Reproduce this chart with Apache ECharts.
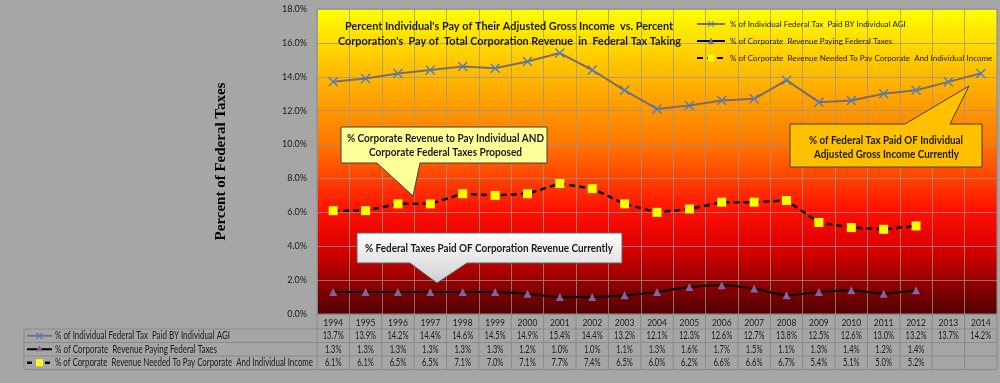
<!DOCTYPE html>
<html><head><meta charset="utf-8">
<script src="https://cdn.jsdelivr.net/npm/echarts@6/dist/echarts.min.js"></script>
<style>html,body{margin:0;padding:0;background:#a6a6a6}#c{width:1000px;height:383px}</style>
</head><body><div id="c"></div>
<script>
var years = ['1994','1995','1996','1997','1998','1999','2000','2001','2002','2003','2004','2005','2006','2007','2008','2009','2010','2011','2012','2013','2014'];
var individualAGI = [13.7,13.9,14.2,14.4,14.6,14.5,14.9,15.4,14.4,13.2,12.1,12.3,12.6,12.7,13.8,12.5,12.6,13.0,13.2,13.7,14.2];
var corpPaying = [1.3,1.3,1.3,1.3,1.3,1.3,1.2,1.0,1.0,1.1,1.3,1.6,1.7,1.5,1.1,1.3,1.4,1.2,1.4,null,null];
var corpNeeded = [6.1,6.1,6.5,6.5,7.1,7.0,7.1,7.7,7.4,6.5,6.0,6.2,6.6,6.6,6.7,5.4,5.1,5.0,5.2,null,null];
var seriesNames = ['% of Individual Federal Tax  Paid BY Individual AGI','% of Corporate  Revenue Paying Federal Taxes','% of Corporate  Revenue Needed To Pay Corporate  And Individual Income'];
var titleLines = ["Percent Individual's Pay of Their Adjusted Gross Income  vs. Percent", "Corporation's  Pay of  Total Corporation Revenue  in  Federal Tax Taking"];
var yTicks = {min:0, max:18, interval:2};
var callout1 = ['% Corporate Revenue to Pay Individual AND','Corporate Federal Taxes Proposed'];
var callout2 = ['% Federal Taxes Paid OF Corporation Revenue Currently'];
var callout3 = ['% of Federal Tax Paid OF Individual','Adjusted Gross Income Currently'];

var FONT = 'Lato, "Liberation Sans", Arial, sans-serif';
var XMARK = 'path://M1,0 L5,4 L9,0 L10,1 L6,5 L10,9 L9,10 L5,6 L1,10 L0,9 L4,5 L0,1 Z';
var mctx = document.createElement('canvas').getContext('2d');
function fit(text, font, w){ mctx.font = font; return w / mctx.measureText(text).width; }

var chart = echarts.init(document.getElementById('c'), null, {renderer:'canvas'});
var G = {left:317, right:3, top:9, bottom:69};
var option = {
  backgroundColor:'#a6a6a6',
  animation:false,
  grid:{left:G.left, right:G.right, top:G.top, bottom:G.bottom, show:true, borderColor:'#8c8c8c', borderWidth:1,
    backgroundColor:{type:'linear',x:0,y:0,x2:0,y2:1,colorStops:[
      {offset:0,color:'#ffff00'},{offset:0.2,color:'#ffbf00'},{offset:0.44,color:'#ff7800'},
      {offset:0.66,color:'#ff1000'},{offset:0.78,color:'#dd0000'},{offset:1,color:'#500000'}]}},
  legend:{orient:'vertical', left:696, top:20, padding:0, itemWidth:28, itemHeight:8, itemGap:9,
    textStyle:{fontFamily:FONT, fontSize:8, color:'#1a1a1a'}, data:seriesNames},
  xAxis:{type:'category', data:years, boundaryGap:true,
    axisLine:{lineStyle:{color:'#8c8c8c'}}, axisTick:{show:false},
    axisLabel:{fontFamily:FONT, fontSize:8.5, color:'#1a1a1a', margin:5},
    splitLine:{show:true, interval:0, lineStyle:{color:'rgba(150,150,150,0.75)', width:1}}},
  yAxis:{type:'value', min:yTicks.min, max:yTicks.max, interval:yTicks.interval,
    name:'Percent of Federal Taxes', nameLocation:'middle', nameGap:88, nameRotate:90,
    nameTextStyle:{fontFamily:'"Liberation Serif", "Times New Roman", serif', fontWeight:'bold', fontSize:15, color:'#000'},
    axisLine:{show:false}, axisTick:{show:false},
    axisLabel:{fontFamily:FONT, fontSize:9, color:'#1a1a1a', margin:10, formatter:function(v){return v.toFixed(1)+'%';}},
    splitLine:{lineStyle:{color:'rgba(150,150,150,0.75)', width:1}}},
  series:[
    {name:seriesNames[0], type:'line', data:individualAGI, symbol:XMARK, symbolSize:10,
      lineStyle:{color:'#7d6b68', width:2}, itemStyle:{color:'#4a7fc8'}},
    {name:seriesNames[1], type:'line', data:corpPaying, symbol:'triangle', symbolSize:8, smooth:0.2,
      lineStyle:{color:'#000', width:2}, itemStyle:{color:'#8064a2'}},
    {name:seriesNames[2], type:'line', data:corpNeeded, symbol:'rect', symbolSize:9,
      lineStyle:{color:'#000', width:2.5, type:[6,4]}, itemStyle:{color:'#ffff00'}}
  ]
};
chart.setOption(option);

function txt(els, t, x, y, font, w, align, z){
  var s = fit(t, font, w);
  els.push({type:'text', x:x, y:y, scaleX:s, z:z||60, style:{text:t, x:0, y:0, textAlign:align||'center', textVerticalAlign:'middle', font:font, fill:'#1a1a1a'}});
}
function buildGraphics(){
  var els = [];
  var TB = 'bold 12px '+FONT;
  txt(els, titleLines[0], 509, 26, TB, 328);
  txt(els, titleLines[1], 509.5, 41, TB, 343);
  function poly(points, fill, stroke){
    els.push({type:'polygon', shape:{points:points}, style:{fill:fill, stroke:stroke, lineWidth:1}, z:50});
  }
  var CB = 'bold 11.5px '+FONT;
  poly([[341,127],[547,127],[547,163],[420,163],[413,196],[377,163],[341,163]], '#ffff99', '#404040');
  txt(els, callout1[0], 445.5, 138.5, CB, 197);
  txt(els, callout1[1], 445.5, 152.5, CB, 153);
  poly([[357,233],[622,233],[622,263],[467,263],[437,283],[410,263],[357,263]],
    {type:'linear',x:0,y:0,x2:0,y2:1,colorStops:[{offset:0,color:'#ffffff'},{offset:1,color:'#cfcfcf'}]}, '#606060');
  txt(els, callout2[0], 489, 248.5, CB, 248);
  poly([[790,124],[905,124],[969,86],[950,124],[982,124],[982,167],[790,167]], '#ffc000', '#404040');
  txt(els, callout3[0], 886, 140, CB, 154);
  txt(els, callout3[1], 886.5, 154, CB, 145);

  // data table
  var xs = years.map(function(y){return chart.convertToPixel({xAxisIndex:0}, y);});
  var bw = xs[1]-xs[0];
  var plotBottom = chart.convertToPixel({yAxisIndex:0}, 0);
  var rowTop = plotBottom + 15, rh = 13.5, tLeft = 24, tRight = xs[xs.length-1]+bw/2;
  var lineC = '#8a8a8a';
  var rows = [individualAGI, corpPaying, corpNeeded];
  for (var r=0;r<=3;r++){
    els.push({type:'line', shape:{x1:tLeft, y1:rowTop+r*rh, x2:tRight, y2:rowTop+r*rh}, style:{stroke:lineC, lineWidth:1}});
  }
  els.push({type:'line', shape:{x1:tLeft, y1:rowTop, x2:tLeft, y2:rowTop+3*rh}, style:{stroke:lineC, lineWidth:1}});
  for (var i=0;i<=xs.length;i++){
    var bx = xs[0]-bw/2+i*bw;
    els.push({type:'line', shape:{x1:bx, y1:plotBottom, x2:bx, y2:rowTop+3*rh}, style:{stroke:lineC, lineWidth:1}});
  }
  var VF = '10.5px '+FONT;
  var vs = fit('13.7%', VF, 21);
  var labelW = [175, 162, 258];
  rows.forEach(function(arr, r){
    var cy = rowTop + r*rh + rh/2;
    arr.forEach(function(v, i){
      if (v===null) return;
      var t = v.toFixed(1)+'%';
      els.push({type:'text', x:xs[i], y:cy, scaleX:vs, style:{text:t, x:0, y:0, textAlign:'center', textVerticalAlign:'middle', font:VF, fill:'#1a1a1a'}});
    });
    txt(els, seriesNames[r], 55, cy, VF, labelW[r], 'left');
  });
  // table legend keys
  var k0 = rowTop + rh/2, k1 = rowTop + 1.5*rh, k2 = rowTop + 2.5*rh;
  els.push({type:'line', shape:{x1:27,y1:k0,x2:52,y2:k0}, style:{stroke:'#7a6a9a', lineWidth:2}});
  var cx0 = 39.5, X = [[0,1],[2.5,3.5],[5,1],[6,2],[3.5,4.5],[6,7],[5,8],[2.5,5.5],[0,8],[-1,7],[1.5,4.5],[-1,2]];
  els.push({type:'polygon', shape:{points:X.map(function(p){return [cx0-2.5+p[0]*1, k0-4.5+p[1]*1];})}, style:{fill:'#4a7fc8'}});
  els.push({type:'line', shape:{x1:27,y1:k1,x2:52,y2:k1}, style:{stroke:'#000', lineWidth:2}});
  els.push({type:'polygon', shape:{points:[[39.5,k1-4],[43,k1+2],[36,k1+2]]}, style:{fill:'#8064a2'}});
  els.push({type:'line', shape:{x1:27,y1:k2,x2:52,y2:k2}, style:{stroke:'#000', lineWidth:2.5, lineDash:[5,4]}});
  els.push({type:'rect', shape:{x:36,y:k2-3.5,width:7,height:7}, style:{fill:'#ffff00'}});
  chart.setOption({graphic:{elements:els}});
}
buildGraphics();
</script></body></html>
